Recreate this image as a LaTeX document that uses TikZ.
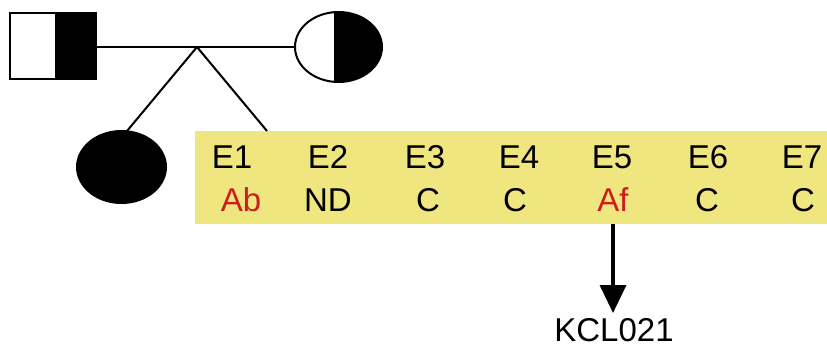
\documentclass[tikz,border=0pt]{standalone}
\usepackage{fontspec}
\setmainfont{Liberation Sans}
\usetikzlibrary{arrows.meta}
\definecolor{boxyellow}{RGB}{240,230,128}
\definecolor{cellred}{RGB}{204,30,30}
\tikzset{
  pedline/.style={line width=2pt, draw=black},
  exonlbl/.style={anchor=base, inner sep=0pt, font=\fontsize{33}{33}\selectfont},
  callred/.style={exonlbl, text=cellred},
  callblk/.style={exonlbl, text=black},
}
\begin{document}
\begin{tikzpicture}[x=1pt,y=-1pt]
\useasboundingbox (0,0) rectangle (827,349);
% yellow panel
\fill[boxyellow] (195,131) rectangle (827,224);
\coordinate (panelTop) at (267,131);
% father (square)
\fill[black] (55,13) rectangle (96,79);
\draw[pedline] (10,13) rectangle (96,79);
\coordinate (fatherR) at (96,47);
% mother (circle)
\begin{scope}
  \clip (335,0) rectangle (400,100);
  \fill[black] (338.5,47) ellipse [x radius=43.5, y radius=35];
\end{scope}
\draw[pedline] (338.5,47) ellipse [x radius=43.5, y radius=35];
\draw[pedline] (335,12) -- (335,82);
\coordinate (motherL) at (295,47);
% child (filled)
\fill[black] (121.5,167) ellipse [x radius=45.5, y radius=37];
\coordinate (childTop) at (127,131);
% connectors
\coordinate (vertex) at (197,47);
\draw[pedline] (fatherR) -- (motherL);
\draw[pedline] (vertex) -- (childTop);
\draw[pedline] (vertex) -- (panelTop);
% exon labels
\node[callblk] (e1) at (232,168) {E1};
\node[callblk] (e2) at (328,168) {E2};
\node[callblk] (e3) at (425,168) {E3};
\node[callblk] (e4) at (519,168) {E4};
\node[callblk] (e5) at (612,168) {E5};
\node[callblk] (e6) at (708,168) {E6};
\node[callblk] (e7) at (802,168) {E7};
\node[callred] (c1) at (241,211) {Ab};
\node[callblk] (c2) at (328,211) {ND};
\node[callblk] (c3) at (428,211) {C};
\node[callblk] (c4) at (515,211) {C};
\node[callred] (c5) at (613,211) {Af};
\node[callblk] (c6) at (707,211) {C};
\node[callblk] (c7) at (803,211) {C};
% arrow
\coordinate (arrowStart) at (613,224);
\node[anchor=base, inner sep=0pt, font=\fontsize{33}{33}\selectfont] (kcl) at (614,341) {KCL021};
\coordinate (arrowEnd) at (613,313);
\draw[line width=3.5pt, -{Triangle[width=26pt,length=28pt]}] (arrowStart) -- (arrowEnd);
\end{tikzpicture}
\end{document}
